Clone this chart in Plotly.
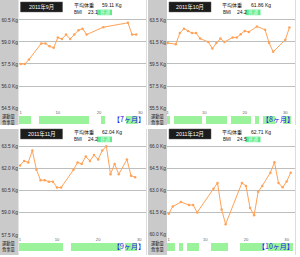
import plotly.graph_objects as go

W, H = 300, 257

# ---------------- data ----------------
months = ["2011年9月", "2011年10月", "2011年11月", "2011年12月"]
avg_weights = ["59.11", "61.86", "62.04", "62.71"]
bmis = ["23.1", "24.2", "24.2", "24.5"]
bmi_labels = ["普通", "普通", "普通", "普通"]
periods = ["【7ヶ月】", "【8ヶ月】", "【9ヶ月】", "【10ヶ月】"]

sep_days = [1, 2, 3, 6, 7, 8, 9, 10, 11, 12, 13, 14, 15, 16, 17, 21, 27, 28, 29]
sep_kg = [57.5, 57.5, 57.8, 58.9, 58.9, 58.7, 58.6, 59.3, 59.2, 59.5, 59.2, 59.5,
          59.8, 59.9, 59.5, 60.0, 60.3, 59.5, 59.5]
oct_days = [1, 3, 4, 5, 6, 7, 8, 9, 11, 12, 13, 14, 15, 17, 18, 19, 20, 21, 23,
            25, 26, 27, 30, 31]
oct_kg = [61.4, 61.3, 62.3, 62.7, 62.5, 62.3, 62.3, 61.8, 61.5, 60.9, 61.4, 61.8,
          61.5, 61.9, 61.9, 62.2, 62.5, 62.4, 62.9, 62.6, 61.4, 60.6, 61.7, 62.8]
nov_days = [1, 2, 3, 4, 5, 6, 7, 8, 9, 10, 11, 14, 15, 16, 17, 18, 19, 20, 21, 22,
            23, 24, 25, 27, 28, 29]
nov_kg = [62.2, 62.5, 62.4, 63.2, 61.9, 61.2, 61.2, 61.1, 61.1, 60.7, 60.7, 61.9,
          62.4, 62.3, 62.8, 62.5, 62.9, 62.6, 63.2, 63.5, 61.6, 62.3, 61.6, 62.6,
          61.5, 61.4]
dec_days = [1, 2, 4, 6, 7, 8, 12, 13, 14, 15, 19, 20, 21, 22, 23, 24, 26, 27, 28,
            29, 30, 31]
dec_kg = [61.4, 61.9, 62.2, 62.0, 62.0, 61.5, 63.1, 63.5, 61.7, 60.7, 63.5, 63.3,
          61.8, 61.3, 62.9, 63.3, 64.2, 64.9, 63.5, 63.2, 63.6, 64.2]

sep_yticks = [54.5, 56.0, 57.5, 59.0, 60.5]
oct_yticks = [55.5, 57.5, 59.5, 61.5, 63.5]
nov_yticks = [57.5, 59.0, 60.5, 62.0, 63.5]
dec_yticks = [60.0, 61.5, 63.0, 64.5, 66.0]
x_ticks = [1, 10, 20, 30]
row_labels = ["運動量", "食事量"]

days_all = [sep_days, oct_days, nov_days, dec_days]
kg_all = [sep_kg, oct_kg, nov_kg, dec_kg]
yticks_all = [sep_yticks, oct_yticks, nov_yticks, dec_yticks]

# ---------------- layout geometry (pixels) ----------------
geo = [
    dict(sx0=0, sx1=18.5, sy0=0, sy1=126, px0=19, px1=146, ptop=20, pbot=109, d1=20.7, slope=4.124, oy=0),
    dict(sx0=148, sx1=167, sy0=0, sy1=126, px0=167, px1=295, ptop=20, pbot=109, d1=167.7, slope=4.057, oy=0),
    dict(sx0=0, sx1=18.5, sy0=130, sy1=257, px0=19, px1=146, ptop=147.3, pbot=236.7, d1=20.0, slope=4.113, oy=128),
    dict(sx0=148, sx1=167, sy0=130, sy1=257, px0=167, px1=295, ptop=147.3, pbot=236.3, d1=168.7, slope=4.067, oy=128),
]

def fx(p):
    return p / W

def fy(p):
    return 1 - p / H

LINE = "#FFA257"
GREEN_BAR = "#9AF29A"
GRID = "#BEBEBE"
STRIP = "#CACACA"
LAT = "Liberation Sans, Noto Sans CJK JP, sans-serif"
CJK = "Noto Sans CJK JP, sans-serif"

fig = go.Figure()
layout = dict(width=W, height=H, margin=dict(l=0, r=0, t=0, b=0),
              paper_bgcolor="white", plot_bgcolor="white", showlegend=False)
shapes = []
annotations = []

for i, g in enumerate(geo):
    n = i + 1
    xs = "" if n == 1 else str(n)
    ys_line = "" if n == 1 else str(n)
    ys_bar = str(n + 4)
    oy = g["oy"]
    yt = yticks_all[i]
    topv, botv = yt[-1], yt[0]
    kpp = (topv - botv) / (g["pbot"] - g["ptop"])  # kg per pixel
    dom_top = oy + 15
    dom_bot = g["pbot"] + 1
    yr = [botv - (dom_bot - g["pbot"]) * kpp, topv + (g["ptop"] - dom_top) * kpp]
    xr = [1 - (g["d1"] - g["px0"]) / g["slope"], 1 + (g["px1"] - g["d1"]) / g["slope"]]

    layout["xaxis" + xs] = dict(
        domain=[fx(g["px0"]), fx(g["px1"])], range=xr, anchor="y" + ys_line,
        showgrid=False, zeroline=False, showline=False, ticks="",
        tickvals=x_ticks, ticktext=[str(v) for v in x_ticks],
        tickfont=dict(size=4.2, color="#666666", family=LAT), fixedrange=True)
    layout["yaxis" + ys_line] = dict(
        domain=[fy(dom_bot), fy(dom_top)], range=yr, anchor="x" + xs,
        showgrid=True, gridcolor=GRID, gridwidth=1, zeroline=False, showline=False,
        ticks="", tickvals=yt, ticktext=[f"{v:.1f} Kg" for v in yt],
        tickfont=dict(size=4.8, color="#333333", family=LAT), fixedrange=True)
    layout["yaxis" + ys_bar] = dict(
        domain=[fy(oy + 125), fy(oy + 116.8)], range=[0, 1], anchor="x" + xs,
        visible=False, fixedrange=True)

    # record bars (days with entries)
    fig.add_trace(go.Bar(x=days_all[i], y=[1] * len(days_all[i]), width=1,
                         marker=dict(color=GREEN_BAR, line=dict(width=0)),
                         xaxis="x" + xs, yaxis="y" + ys_bar, hoverinfo="skip"))
    # weight line
    fig.add_trace(go.Scatter(x=days_all[i], y=kg_all[i], mode="lines+markers",
                             line=dict(color=LINE, width=1),
                             marker=dict(color=LINE, size=2.5),
                             xaxis="x" + xs, yaxis="y" + ys_line, cliponaxis=False))

    shapes.append(dict(type="rect", xref="paper", yref="paper", layer="below",
                       x0=fx(g["sx0"]), x1=fx(g["sx1"]), y0=fy(g["sy1"]), y1=fy(g["sy0"]),
                       fillcolor=STRIP, line=dict(width=0)))
    shapes.append(dict(type="line", xref="paper", yref="paper", layer="below",
                       x0=fx(g["px1"] + 0.5), x1=fx(g["px1"] + 0.5),
                       y0=fy(g["sy1"]), y1=fy(g["sy0"]),
                       line=dict(color="#DDDDDD", width=1)))
    sr = g["sx1"]
    shapes.append(dict(type="rect", xref="paper", yref="paper",
                       x0=fx(sr + 2), x1=fx(sr + 44), y0=fy(oy + 12), y1=fy(oy + 2),
                       fillcolor="#1C1C1C", line=dict(color="#555555", width=0.5)))
    annotations.append(dict(x=fx(sr + 23), y=fy(oy + 7), xref="paper", yref="paper",
                            text=months[i], showarrow=False, xanchor="center", yanchor="middle",
                            font=dict(size=5.3, color="white", family=LAT)))
    annotations.append(dict(x=fx(sr + 53), y=fy(oy + 5.3), xref="paper", yref="paper",
                            text="平均体重", showarrow=False, xanchor="left", yanchor="middle",
                            font=dict(size=5, color="#111111", family=CJK)))
    annotations.append(dict(x=fx(sr + 81.5), y=fy(oy + 5.3), xref="paper", yref="paper",
                            text=f"{avg_weights[i]} Kg", showarrow=False, xanchor="left", yanchor="middle",
                            font=dict(size=5, color="#111111", family=LAT)))
    annotations.append(dict(x=fx(sr + 53.5), y=fy(oy + 12.5), xref="paper", yref="paper",
                            text="BMI", showarrow=False, xanchor="left", yanchor="middle",
                            font=dict(size=4.5, color="#111111", family=LAT)))
    annotations.append(dict(x=fx(sr + 67.5), y=fy(oy + 12.5), xref="paper", yref="paper",
                            text=bmis[i], showarrow=False, xanchor="left", yanchor="middle",
                            font=dict(size=5, color="#111111", family=LAT)))
    shapes.append(dict(type="rect", xref="paper", yref="paper",
                       x0=fx(sr + 78.5), x1=fx(sr + 93.5), y0=fy(oy + 15.3), y1=fy(oy + 9.7),
                       fillcolor="#5DEB8C", line=dict(width=0)))
    annotations.append(dict(x=fx(sr + 86), y=fy(oy + 12.5), xref="paper", yref="paper",
                            text=bmi_labels[i], showarrow=False, xanchor="center", yanchor="middle",
                            font=dict(size=5, color="#DFFFEA", family=CJK)))
    for k, lab in enumerate(row_labels):
        annotations.append(dict(x=fx(sr - 0.5), y=fy(oy + 117.8 + 6 * k), xref="paper", yref="paper",
                                text=lab, showarrow=False, xanchor="right", yanchor="middle",
                                font=dict(size=4.3, color="#222222", family=CJK)))
    annotations.append(dict(x=fx(g["px1"] - 0.5), y=fy(oy + 119.8), xref="paper", yref="paper",
                            text=periods[i], showarrow=False, xanchor="right", yanchor="middle",
                            borderpad=0,
                            font=dict(size=7, color="#1818E8", family=CJK)))

layout["shapes"] = shapes
layout["annotations"] = annotations
layout["bargap"] = 0
fig.update_layout(**layout)

fig.write_html("out.html")
